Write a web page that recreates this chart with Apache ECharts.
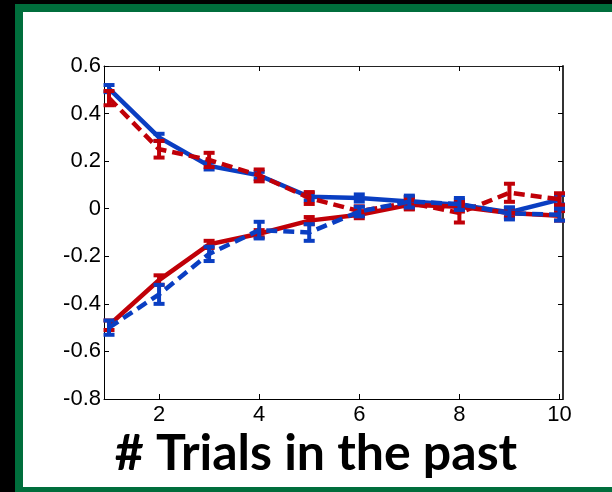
<!DOCTYPE html>
<html>
<head>
<meta charset="utf-8">
<script src="https://cdn.jsdelivr.net/npm/echarts@6/dist/echarts.min.js"></script>
<style>
  html, body { margin: 0; padding: 0; width: 612px; height: 492px; overflow: hidden; background: #000; }
  #frame { position: absolute; left: 15px; top: 4px; width: 640px; height: 520px; background: #006e3c; }
  #panel { position: absolute; left: 23px; top: 12px; width: 620px; height: 475px; background: #fff; }
  #chart { position: absolute; left: 0; top: 0; width: 612px; height: 492px; }
</style>
</head>
<body>
<div id="frame"></div>
<div id="panel"></div>
<div id="chart"></div>
<script>
// Trial lag (number of trials back)
const trials = [1, 2, 3, 4, 5, 6, 7, 8, 9, 10];
const xTicks = [2, 4, 6, 8, 10];

// Weights per lag, with standard-error half widths
const blueSolid    = [0.505, 0.300, 0.180, 0.140, 0.050, 0.045, 0.030, 0.017, -0.015, 0.038];
const blueSolidErr = [0.015, 0.015, 0.015, 0.015, 0.015, 0.015, 0.020, 0.020, 0.020, 0.020];

const redDashed    = [0.465, 0.250, 0.205, 0.140, 0.045, -0.010, 0.025, -0.018, 0.067, 0.040];
const redDashedErr = [0.030, 0.035, 0.030, 0.025, 0.025, 0.020, 0.025, 0.040, 0.038, 0.025];

const redSolid     = [-0.490, -0.300, -0.150, -0.105, -0.050, -0.025, 0.017, 0.008, -0.018, -0.030];
const redSolidErr  = [0.020, 0.020, 0.015, 0.015, 0.015, 0.015, 0.020, 0.020, 0.020, 0.020];

const blueDashed    = [-0.500, -0.360, -0.190, -0.090, -0.100, -0.012, 0.030, 0.020, -0.020, -0.025];
const blueDashedErr = [0.030, 0.040, 0.030, 0.035, 0.035, 0.020, 0.025, 0.025, 0.025, 0.025];

const BLUE = '#0a3ec2';
const RED = '#c00008';

function pairs(ys) { return trials.map((x, i) => [x, ys[i]]); }
function triples(ys, es) { return trials.map((x, i) => [x, ys[i], es[i]]); }

function errorBarRenderer(color) {
  return function (params, api) {
    const x = api.value(0), y = api.value(1), e = api.value(2);
    const top = api.coord([x, y + e]);
    const bot = api.coord([x, y - e]);
    const hw = 5.5;
    const style = { stroke: color, lineWidth: 4, fill: null };
    return {
      type: 'group',
      children: [
        { type: 'line', shape: { x1: top[0], y1: top[1], x2: bot[0], y2: bot[1] }, style: style },
        { type: 'line', shape: { x1: top[0] - hw, y1: top[1], x2: top[0] + hw, y2: top[1] }, style: style },
        { type: 'line', shape: { x1: bot[0] - hw, y1: bot[1], x2: bot[0] + hw, y2: bot[1] }, style: style }
      ]
    };
  };
}

function lineSeries(ys, color, dashed, z) {
  return {
    type: 'line', data: pairs(ys), showSymbol: false, symbol: 'none', z: z,
    lineStyle: { color: color, width: 4.5, type: dashed ? [11, 6] : 'solid', cap: 'butt', join: 'miter' },
    animation: false, silent: true
  };
}
function barSeries(ys, es, color, z) {
  return {
    type: 'custom', data: triples(ys, es), renderItem: errorBarRenderer(color), z: z,
    animation: false, silent: true
  };
}

const labelFont = { fontFamily: 'Liberation Sans', fontSize: 22, color: '#000' };

const chart = echarts.init(document.getElementById('chart'), null, { renderer: 'canvas' });
chart.setOption({
  backgroundColor: 'transparent',
  animation: false,
  textStyle: { fontFamily: 'Liberation Sans' },
  grid: { left: 104, top: 66, right: 49, bottom: 93, containLabel: false },
  xAxis: [
    {
      type: 'value', min: 0.9, max: 10.07, position: 'bottom',
      axisLine: { show: true, onZero: false, lineStyle: { color: '#000', width: 1 } },
      axisTick: { show: true, inside: true, length: 5, customValues: xTicks, lineStyle: { color: '#000' } },
      axisLabel: Object.assign({ customValues: xTicks, margin: 5 }, labelFont),
      splitLine: { show: false }
    },
    {
      type: 'value', min: 0.9, max: 10.07, position: 'top',
      axisLine: { show: true, onZero: false, lineStyle: { color: '#222', width: 1 } },
      axisTick: { show: true, inside: true, length: 5, customValues: xTicks, lineStyle: { color: '#000' } },
      axisLabel: { show: false },
      splitLine: { show: false }
    }
  ],
  yAxis: [
    {
      type: 'value', min: -0.8, max: 0.6, interval: 0.2, position: 'left',
      axisLine: { show: true, onZero: false, lineStyle: { color: '#000', width: 1 } },
      axisTick: { show: true, inside: true, length: 5, lineStyle: { color: '#000' } },
      axisLabel: Object.assign({
        margin: 3,
        formatter: function (v) { return Math.abs(v) < 1e-9 ? '0' : v.toFixed(1); }
      }, labelFont),
      splitLine: { show: false }
    },
    {
      type: 'value', min: -0.8, max: 0.6, interval: 0.2, position: 'right',
      axisLine: { show: true, onZero: false, lineStyle: { color: '#333', width: 2 } },
      axisTick: { show: true, inside: true, length: 5, lineStyle: { color: '#000' } },
      axisLabel: { show: false },
      splitLine: { show: false }
    }
  ],
  graphic: [
    {
      type: 'text', x: 316, y: 429,
      style: { text: '# Trials in the past', fontFamily: 'Lato', fontWeight: 'bold', fontSize: 50, fill: '#000', align: 'center', verticalAlign: 'top' }
    }
  ],
  series: [
    lineSeries(blueSolid, BLUE, false, 2),
    barSeries(blueSolid, blueSolidErr, BLUE, 2),
    lineSeries(redSolid, RED, false, 3),
    barSeries(redSolid, redSolidErr, RED, 3),
    lineSeries(redDashed, RED, true, 4),
    barSeries(redDashed, redDashedErr, RED, 4),
    lineSeries(blueDashed, BLUE, true, 5),
    barSeries(blueDashed, blueDashedErr, BLUE, 5)
  ]
});
</script>
</body>
</html>
